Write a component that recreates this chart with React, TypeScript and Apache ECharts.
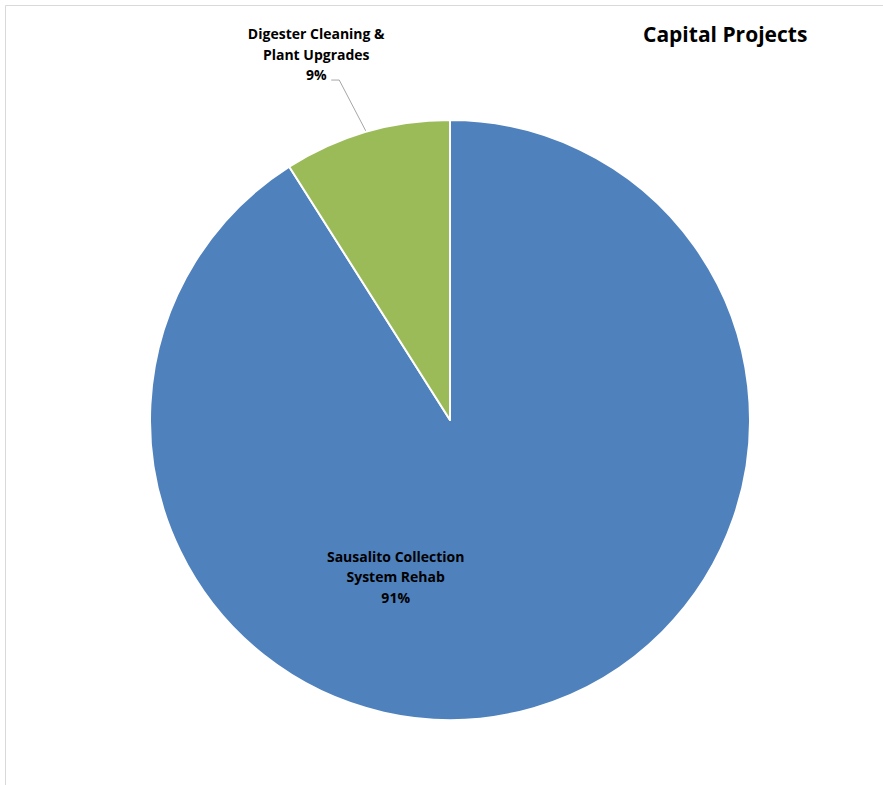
import React, { useEffect, useRef } from 'react';
import * as echarts from 'echarts';

const titleText = 'Capital Projects';
const categories = ['Sausalito Collection\nSystem Rehab', 'Digester Cleaning &\nPlant Upgrades'];
const values = [91, 9];
const colors = ['#4F81BD', '#9BBB59'];

const FONT = '"Open Sans", "Noto Sans", sans-serif';

export default function App() {
  const ref = useRef<HTMLDivElement>(null);
  useEffect(() => {
    const chart = echarts.init(ref.current as HTMLDivElement, null, { renderer: 'svg' });
    const plainLabel = (p: any) => `${p.name}\n${Math.round(p.percent)}%`;
    const richLabel = (p: any) =>
      `${p.name}\n${Math.round(p.percent)}%`
        .split('\n')
        .map((l: string) => `{n|${l}}`)
        .join('\n');
    chart.setOption({
      animation: false,
      backgroundColor: '#ffffff',
      title: {
        text: titleText,
        left: 643,
        top: 23,
        padding: 0,
        textStyle: { fontFamily: FONT, fontSize: 21, fontWeight: 'bold', color: '#000', lineHeight: 22 },
      },
      graphic: [
        {
          type: 'rect',
          silent: true,
          shape: { x: 5.5, y: 5.5, width: 1000, height: 1000 },
          style: { fill: 'none', stroke: '#d9d9d9', lineWidth: 1 },
        },
      ],
      series: [
        {
          type: 'pie',
          center: [450, 420],
          radius: 300,
          startAngle: 90,
          clockwise: true,
          itemStyle: { borderColor: '#ffffff', borderWidth: 2 },
          label: {
            position: 'inside',
            color: '#000',
            fontFamily: FONT,
            fontSize: 14,
            fontWeight: 'bold',
            lineHeight: 20.5,
            formatter: plainLabel,
          },
          labelLayout: (p: any) => {
            if (p.dataIndex === 0) return { dx: -97, dy: 10 };
            const pts = p.labelLinePoints;
            if (pts && pts.length === 3) {
              const endX = pts[2][0] - 4;
              const endY = pts[2][1];
              return { labelLinePoints: [pts[0], [endX + 8, endY], [endX, endY]] };
            }
            return {};
          },
          data: categories.map((name, i) => {
            const item: any = { name, value: values[i], itemStyle: { color: colors[i] } };
            if (i === 1) {
              item.label = {
                position: 'outside',
                width: 28,
                overflow: 'none',
                padding: [0, 0, 52, 0],
                formatter: richLabel,
                rich: {
                  n: {
                    fontFamily: FONT,
                    fontSize: 14,
                    fontWeight: 'bold',
                    color: '#000',
                    lineHeight: 20.5,
                    align: 'center',
                    overflow: 'none',
                  },
                },
              };
              item.labelLine = {
                show: true,
                length: 54,
                length2: 16,
                lineStyle: { color: '#a6a6a6', width: 1 },
              };
            }
            return item;
          }),
        },
      ],
    });
    return () => chart.dispose();
  }, []);
  return (
    <div
      ref={ref}
      style={{ position: 'absolute', left: 0, top: 0, width: 883, height: 785 }}
    />
  );
}
